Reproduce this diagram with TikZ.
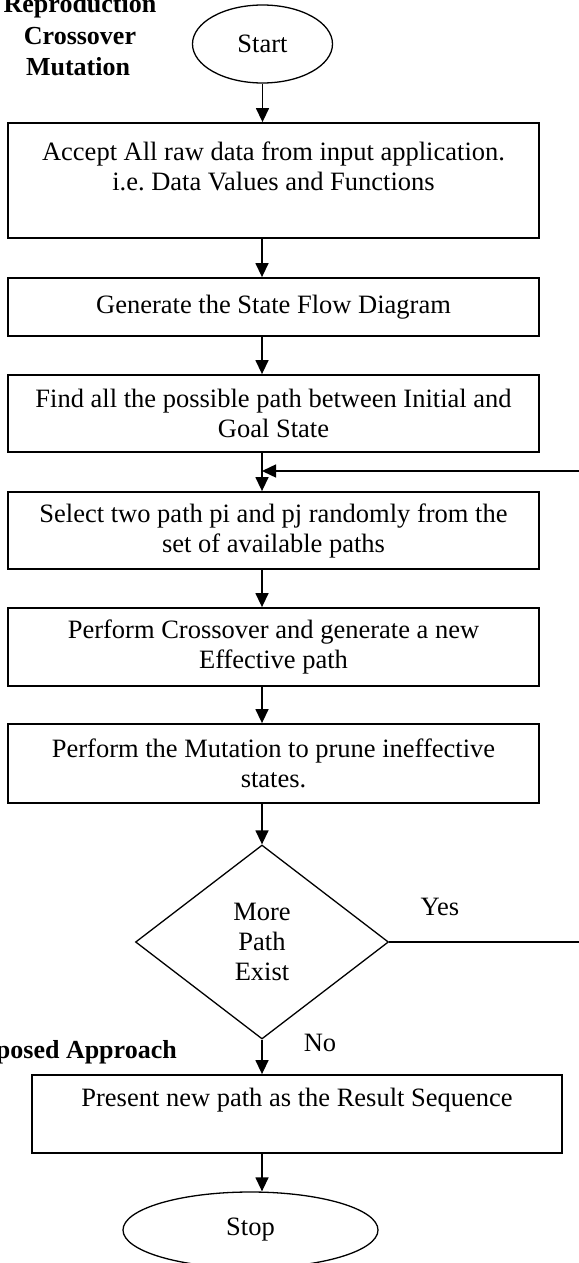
\documentclass[tikz,border=0pt]{standalone}
\usepackage{fontspec}
\setmainfont{Liberation Serif}
\usetikzlibrary{arrows.meta,shapes.geometric}
\frenchspacing
\tikzset{
  txt/.style={font=\fontsize{26.5}{30}\selectfont, align=center},
  bold/.style={font=\fontsize{26}{30}\selectfont\bfseries, align=center},
  procbox/.style={txt, draw, line width=1.8pt, rectangle, minimum width=531pt, inner sep=0pt},
  oval/.style={txt, draw, line width=1.3pt, ellipse, inner sep=0pt},
  decision/.style={txt, draw, line width=1.3pt, diamond, inner sep=0pt, minimum width=253pt, minimum height=194pt},
  arr/.style={line width=1.4pt, -{Triangle[width=13pt,length=14pt]}},
  plain/.style={line width=1.3pt}
}
\begin{document}
\begin{tikzpicture}[x=1pt,y=-1pt]
\useasboundingbox (0,0) rectangle (578,1263);
\fill[white] (0,0) rectangle (578,1263);

% side labels
\node[bold, anchor=base] (lab1) at (80,13) {Reproduction};
\node[bold, anchor=base] (lab2) at (80,45) {Crossover};
\node[bold, anchor=base] (lab3) at (78,75) {Mutation};
\node[bold, anchor=base east, inner sep=0pt] (lab4) at (177,1058) {Proposed Approach};

% nodes
\node[oval, minimum width=140pt, minimum height=78pt] (start) at (262.5,44) {Start};
\node[procbox, minimum height=115pt] (b1) at (273.5,180.5)
  {Accept All raw data from input application.\\ i.e. Data Values and Functions\\[-10pt] \strut};
\node[procbox, minimum height=58pt] (b2) at (273.5,307) {Generate the State Flow Diagram};
\node[procbox, minimum height=77pt] (b3) at (273.5,413.5)
  {Find all the possible path between Initial and\\ Goal State};
\node[procbox, minimum height=77pt] (b4) at (273.5,530.5)
  {Select two path pi and pj randomly from the\\ set of available paths};
\node[procbox, minimum height=78pt] (b5) at (273.5,647)
  {Perform Crossover and generate a new\\ Effective path};
\node[procbox, minimum height=79pt] (b6) at (273.5,763.5)
  {Perform the Mutation to prune ineffective\\ states.};
\node[decision, aspect=1.3] (d) at (262,942) {More\\ Path\\ Exist};
\node[procbox, minimum width=530pt, minimum height=78pt] (b7) at (297,1114)
  {Present new path as the Result Sequence\\[-6pt] \strut};
\node[oval, minimum width=255pt, minimum height=76pt] (stop) at (250.5,1230) {Stop};

% labels
\node[txt] (yes) at (440,907) {Yes};
\node[txt] (no) at (320,1043) {No};

% connectors
\draw[arr] (start.south) -- (b1.north -| start.south);
\draw[arr] (b1.south -| d.north) -- (b2.north -| d.north);
\draw[arr] (b2.south -| d.north) -- (b3.north -| d.north);
\draw[arr] (b3.south -| d.north) -- (b4.north -| d.north);
\draw[arr] (b4.south -| d.north) -- (b5.north -| d.north);
\draw[arr] (b5.south -| d.north) -- (b6.north -| d.north);
\draw[arr] (b6.south -| d.north) -- (d.north);
\draw[arr] (d.south) -- (b7.north -| d.south);
\draw[arr] (b7.south -| d.south) -- (d.south |- stop.north);

% feedback loop
\coordinate (fr) at (581,942);
\coordinate (ft) at (581,471);
\coordinate (fj) at (262,471);
\draw[arr] (d.east) -- (fr) -- (ft) -- (fj);
\end{tikzpicture}
\end{document}
